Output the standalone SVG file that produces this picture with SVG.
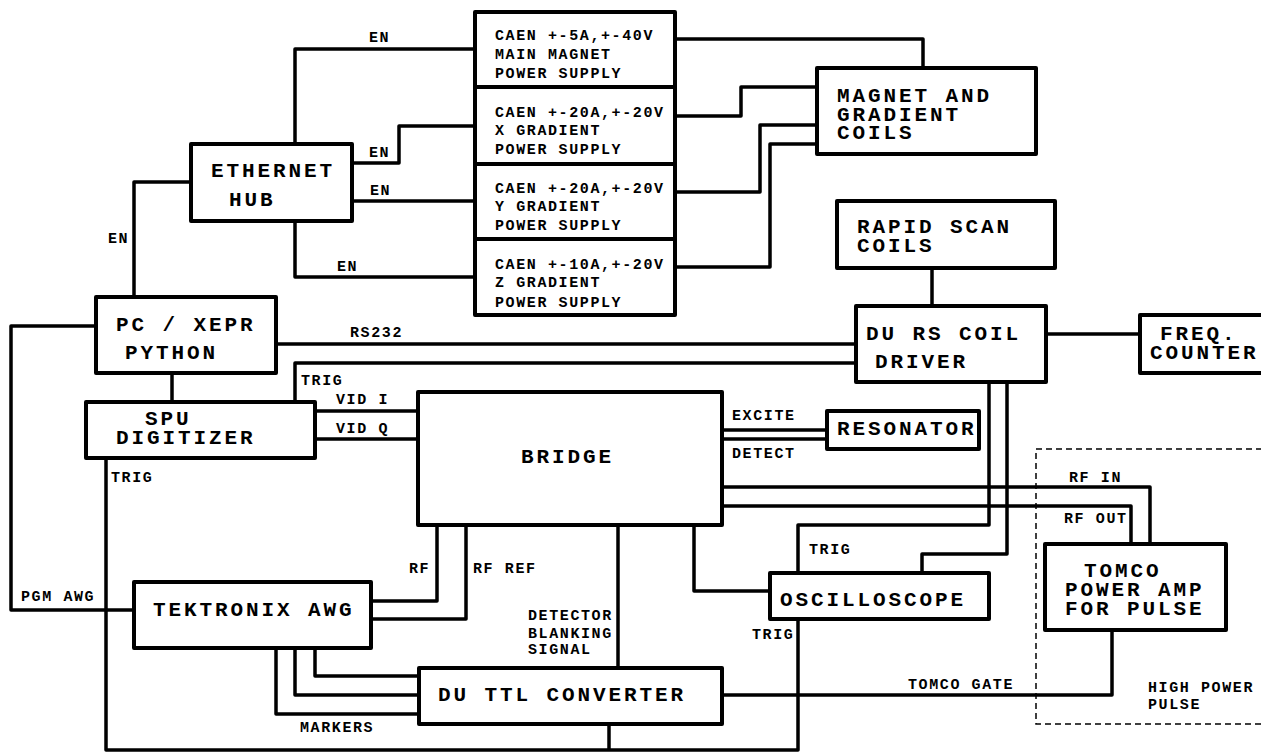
<svg xmlns="http://www.w3.org/2000/svg" width="1261" height="754" viewBox="0 0 1261 754">
<style>
.b{fill:#fff;stroke:#000;stroke-width:4;stroke-linejoin:round}
.c{fill:none;stroke:#000;stroke-width:3.5;stroke-linejoin:round}
.L{font-family:"Liberation Mono","DejaVu Sans Mono",monospace;font-weight:bold;font-size:21px;letter-spacing:2.9px;fill:#000}
.s{font-family:"Liberation Mono","DejaVu Sans Mono",monospace;font-weight:bold;font-size:15px;letter-spacing:1.6px;fill:#000}
.d{fill:none;stroke:#000;stroke-width:1.5;stroke-dasharray:6,4}
</style>
<rect width="1261" height="754" fill="#fff"/>
<g id="hp-zone"><rect class="d" x="1036" y="449" width="240" height="275"/>
<text class="s" x="1148" y="692">HIGH POWER</text><text class="s" x="1148" y="709">PULSE</text></g>
<g id="connectors">
<path class="c" d="M295,144V49H475"/>
<path class="c" d="M352,163H399V126H475"/>
<path class="c" d="M352,201H475"/>
<path class="c" d="M295,221V277H475"/>
<path class="c" d="M191,182H134V297"/>
<path class="c" d="M675,39H923V68"/>
<path class="c" d="M675,116H741V87H817"/>
<path class="c" d="M675,192H760V125H817"/>
<path class="c" d="M675,267H770V144H817"/>
<path class="c" d="M932,268V306"/>
<path class="c" d="M1046,334H1140"/>
<path class="c" d="M276,344H856"/>
<path class="c" d="M295,402V363H856"/>
<path class="c" d="M172,373V402"/>
<path class="c" d="M315,411H418M315,439H418"/>
<path class="c" d="M722,430H827M722,439H827"/>
<path class="c" d="M722,487H1150V544"/>
<path class="c" d="M722,506H1131V544"/>
<path class="c" d="M989,382V525H798V573"/>
<path class="c" d="M1007,382V554H922V573"/>
<path class="c" d="M694,525V591H770"/>
<path class="c" d="M96,326H11V610H134"/>
<path class="c" d="M371,601H437V525"/>
<path class="c" d="M371,619H466V525"/>
<path class="c" d="M618,525V668"/>
<path class="c" d="M315,648V676H419M295,648V695H419M276,648V714H419"/>
<path class="c" d="M722,695H1112V630"/>
<path class="c" d="M106,458V750H798V619"/>
<path class="c" d="M609,724V750"/>
<text class="s" x="369" y="42">EN</text>
<text class="s" x="369" y="157">EN</text>
<text class="s" x="370" y="195">EN</text>
<text class="s" x="337" y="271">EN</text>
<text class="s" x="108" y="243">EN</text>
<text class="s" x="350" y="337">RS232</text>
<text class="s" x="301" y="385">TRIG</text>
<text class="s" x="336" y="404">VID I</text>
<text class="s" x="336" y="433">VID Q</text>
<text class="s" x="732" y="420">EXCITE</text>
<text class="s" x="732" y="458">DETECT</text>
<text class="s" x="1069" y="482">RF IN</text>
<text class="s" x="1064" y="523">RF OUT</text>
<text class="s" x="809" y="554">TRIG</text>
<text class="s" x="752" y="639">TRIG</text>
<text class="s" x="111" y="482">TRIG</text>
<text class="s" x="21" y="601">PGM AWG</text>
<text class="s" x="409" y="573">RF</text>
<text class="s" x="473" y="573">RF REF</text>
<text class="s" x="528" y="620">DETECTOR</text>
<text class="s" x="528" y="638">BLANKING</text>
<text class="s" x="528" y="654">SIGNAL</text>
<text class="s" x="300" y="732">MARKERS</text>
<text class="s" x="908" y="689">TOMCO GATE</text>
</g>
<g id="hub"><rect class="b" x="191" y="144" width="161" height="77"/>
<text class="L" x="211" y="177">ETHERNET</text><text class="L" x="229" y="206">HUB</text></g>
<g id="caen1"><rect class="b" x="475" y="12" width="200" height="75"/>
<text class="s" x="495" y="40">CAEN +-5A,+-40V</text><text class="s" x="495" y="59">MAIN MAGNET</text><text class="s" x="495" y="78">POWER SUPPLY</text></g>
<g id="caen2"><rect class="b" x="475" y="87" width="200" height="77"/>
<text class="s" x="495" y="117">CAEN +-20A,+-20V</text><text class="s" x="495" y="135">X GRADIENT</text><text class="s" x="495" y="154">POWER SUPPLY</text></g>
<g id="caen3"><rect class="b" x="475" y="164" width="200" height="75"/>
<text class="s" x="495" y="193">CAEN +-20A,+-20V</text><text class="s" x="495" y="211">Y GRADIENT</text><text class="s" x="495" y="230">POWER SUPPLY</text></g>
<g id="caen4"><rect class="b" x="475" y="239" width="200" height="76"/>
<text class="s" x="495" y="269">CAEN +-10A,+-20V</text><text class="s" x="495" y="287">Z GRADIENT</text><text class="s" x="495" y="307">POWER SUPPLY</text></g>
<g id="magnet"><rect class="b" x="817" y="68" width="219" height="86"/>
<text class="L" x="837" y="102">MAGNET AND</text><text class="L" x="837" y="121">GRADIENT</text><text class="L" x="837" y="139">COILS</text></g>
<g id="rapid"><rect class="b" x="837" y="201" width="218" height="67"/>
<text class="L" x="857" y="233">RAPID SCAN</text><text class="L" x="857" y="252">COILS</text></g>
<g id="durs"><rect class="b" x="856" y="306" width="190" height="76"/>
<text class="L" x="866" y="340">DU RS COIL</text><text class="L" x="875" y="368">DRIVER</text></g>
<g id="freq"><rect class="b" x="1140" y="315" width="130" height="58"/>
<text class="L" x="1160" y="340">FREQ.</text><text class="L" x="1150" y="359">COUNTER</text></g>
<g id="pc"><rect class="b" x="96" y="297" width="180" height="76"/>
<text class="L" x="116" y="331">PC / XEPR</text><text class="L" x="125" y="359">PYTHON</text></g>
<g id="spu"><rect class="b" x="86" y="402" width="229" height="56"/>
<text class="L" x="145" y="425">SPU</text><text class="L" x="116" y="444">DIGITIZER</text></g>
<g id="bridge"><rect class="b" x="418" y="392" width="304" height="133"/>
<text class="L" x="521" y="463">BRIDGE</text></g>
<g id="resonator"><rect class="b" x="827" y="411" width="152" height="38"/>
<text class="L" x="837" y="435">RESONATOR</text></g>
<g id="osc"><rect class="b" x="770" y="573" width="219" height="46"/>
<text class="L" x="780" y="606">OSCILLOSCOPE</text></g>
<g id="tek"><rect class="b" x="134" y="582" width="237" height="66"/>
<text class="L" x="153" y="616">TEKTRONIX AWG</text></g>
<g id="ttl"><rect class="b" x="419" y="668" width="303" height="56"/>
<text class="L" x="438" y="701">DU TTL CONVERTER</text></g>
<g id="tomco"><rect class="b" x="1045" y="544" width="181" height="86"/>
<text class="L" x="1084" y="577">TOMCO</text><text class="L" x="1065" y="596">POWER AMP</text><text class="L" x="1065" y="615">FOR PULSE</text></g>
</svg>
